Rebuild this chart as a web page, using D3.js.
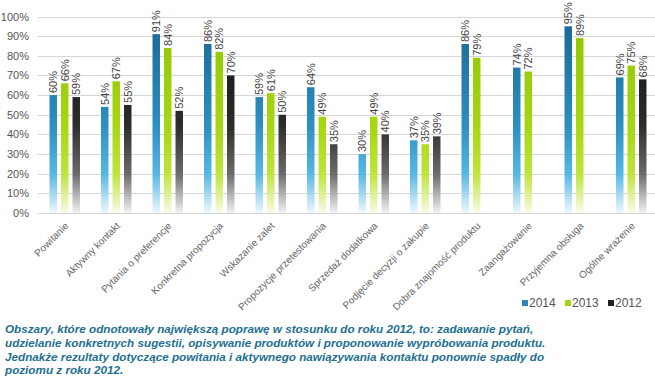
<!DOCTYPE html>
<html>
<head>
<meta charset="utf-8">
<script src="https://cdn.jsdelivr.net/npm/d3@7"></script>
<style>
  body { margin: 0; background: #fff; }
  svg text { font-family: "Liberation Sans", Arial, sans-serif; }
</style>
</head>
<body>
<div id="chart"></div>
<script>
// chart data
var categories = ['Powitanie', 'Aktywny kontakt', 'Pytania o preferencje', 'Konkretna propozycja',
  'Wskazanie zalet', 'Propozycje przetestowania', 'Sprzedaż dodatkowa', 'Podjęcie decyzji o zakupie',
  'Dobra znajomość produktu', 'Zaangażowanie', 'Przyjemna obsługa', 'Ogólne wrażenie'];
var seriesNames = ['2014', '2013', '2012'];
var values2014 = [60, 54, 91, 86, 59, 64, 30, 37, 86, 74, 95, 69];
var values2013 = [66, 67, 84, 82, 61, 49, 49, 35, 79, 72, 89, 75];
var values2012 = [59, 55, 52, 70, 50, 35, 40, 39, null, null, null, 68];
var yTicks = [0, 10, 20, 30, 40, 50, 60, 70, 80, 90, 100];
var footerLines = [
  'Obszary, które odnotowały największą poprawę w stosunku do roku 2012, to: zadawanie pytań,',
  'udzielanie konkretnych sugestii, opisywanie produktów i proponowanie wypróbowania produktu.',
  'Jednakże rezultaty dotyczące powitania i aktywnego nawiązywania kontaktu ponownie spadły do',
  'poziomu z roku 2012.'
];

var W = 655, H = 384;
var plotLeft = 39, plotRight = 657, plotTop = 16.5, plotBottom = 213;

var svg = d3.select('#chart').append('svg')
  .attr('width', W)
  .attr('height', H);

// gradients (fade to white towards the axis)
var gradStops = {
  '2014': [['0', '#1a6690'], ['0.55', '#2b8fc0'], ['0.8', '#55b7e3'], ['1', '#eef8fd']],
  '2013': [['0', '#8ec400'], ['0.55', '#a6d611'], ['0.8', '#bfe43c'], ['1', '#f7fce6']],
  '2012': [['0', '#111111'], ['0.55', '#2c2c2c'], ['0.8', '#6a6a6a'], ['1', '#f2f2f2']]
};
var defs = svg.append('defs');
seriesNames.forEach(function(s){
  var g = defs.append('linearGradient')
    .attr('id', 'grad' + s)
    .attr('gradientUnits', 'userSpaceOnUse')
    .attr('x1', 0).attr('x2', 0)
    .attr('y1', plotTop).attr('y2', plotBottom);
  gradStops[s].forEach(function(st){
    g.append('stop').attr('offset', st[0]).attr('stop-color', st[1]);
  });
});

var y = d3.scaleLinear().domain([0, 100]).range([plotBottom, plotTop]);
var x0 = d3.scaleBand().domain(categories).range([plotLeft, plotRight]).padding(0);
var half = x0.bandwidth() / 2;
var x1 = d3.scaleBand().domain(seriesNames)
  .range([half - 17.25, half + 17.25])
  .paddingInner(0.35).paddingOuter(0.175);

// grid
svg.append('g').selectAll('line')
  .data(yTicks)
  .join('line')
  .attr('x1', 38).attr('x2', W)
  .attr('y1', function(d){ return Math.round(y(d)) + 0.5; })
  .attr('y2', function(d){ return Math.round(y(d)) + 0.5; })
  .style('stroke', '#d6d6d6')
  .style('stroke-width', 1);

var yAxis = svg.append('g')
  .attr('transform', 'translate(29,0)')
  .call(d3.axisLeft(y).tickValues(yTicks).tickSize(0).tickPadding(0)
    .tickFormat(function(d){ return d + '%'; }));
yAxis.select('.domain').remove();
yAxis.selectAll('text')
  .style('font-size', '11px')
  .style('font-family', '"Liberation Sans", Arial, sans-serif')
  .style('fill', '#555');

// bars
var rows = categories.map(function(c, i){
  return { cat: c, vals: [
    { s: '2014', v: values2014[i] },
    { s: '2013', v: values2013[i] },
    { s: '2012', v: values2012[i] }
  ].filter(function(d){ return d.v !== null; }) };
});

var groups = svg.append('g').selectAll('g')
  .data(rows)
  .join('g')
  .attr('transform', function(d){ return 'translate(' + x0(d.cat) + ',0)'; });

groups.selectAll('rect')
  .data(function(d){ return d.vals; })
  .join('rect')
  .attr('x', function(d){ return x1(d.s); })
  .attr('y', function(d){ return y(d.v); })
  .attr('width', x1.bandwidth())
  .attr('height', function(d){ return y(0) - y(d.v); })
  .style('fill', function(d){ return 'url(#grad' + d.s + ')'; });

groups.selectAll('text')
  .data(function(d){ return d.vals; })
  .join('text')
  .attr('transform', function(d){
    return 'translate(' + (x1(d.s) + x1.bandwidth() / 2) + ',' + (y(d.v) - 2) + ') rotate(-90)';
  })
  .attr('dy', '0.36em')
  .style('font-size', '11px')
  .style('fill', '#444')
  .text(function(d){ return d.v + '%'; });

// category labels
svg.append('g').selectAll('text')
  .data(categories)
  .join('text')
  .attr('transform', function(d){
    return 'translate(' + (x0(d) + half + 2) + ',' + (plotBottom + 11) + ') rotate(-45)';
  })
  .attr('text-anchor', 'end')
  .attr('dy', '0.35em')
  .style('font-size', '10px')
  .style('fill', '#666')
  .text(function(d){ return d; });

// legend
var legendX = d3.scalePoint().domain(seriesNames).range([522, 608]);
var legendColors = { '2014': '#2b86b5', '2013': '#a6d611', '2012': '#222' };
var leg = svg.append('g').selectAll('g')
  .data(seriesNames)
  .join('g')
  .attr('transform', function(d){ return 'translate(' + legendX(d) + ',303)'; });
leg.append('rect')
  .attr('x', 0).attr('y', -3)
  .attr('width', 6).attr('height', 6)
  .style('fill', function(d){ return legendColors[d]; });
leg.append('text')
  .attr('x', 7).attr('dy', '0.36em')
  .style('font-size', '12px')
  .style('fill', '#555')
  .text(function(d){ return d; });

// footer note
svg.append('g').selectAll('text')
  .data(footerLines)
  .join('text')
  .attr('x', 5)
  .attr('y', function(d, i){ return 333 + i * 13.8; })
  .style('font-size', '11.7px')
  .style('font-weight', 'bold')
  .style('font-style', 'italic')
  .style('fill', '#236f8f')
  .text(function(d){ return d; });
</script>
</body>
</html>
